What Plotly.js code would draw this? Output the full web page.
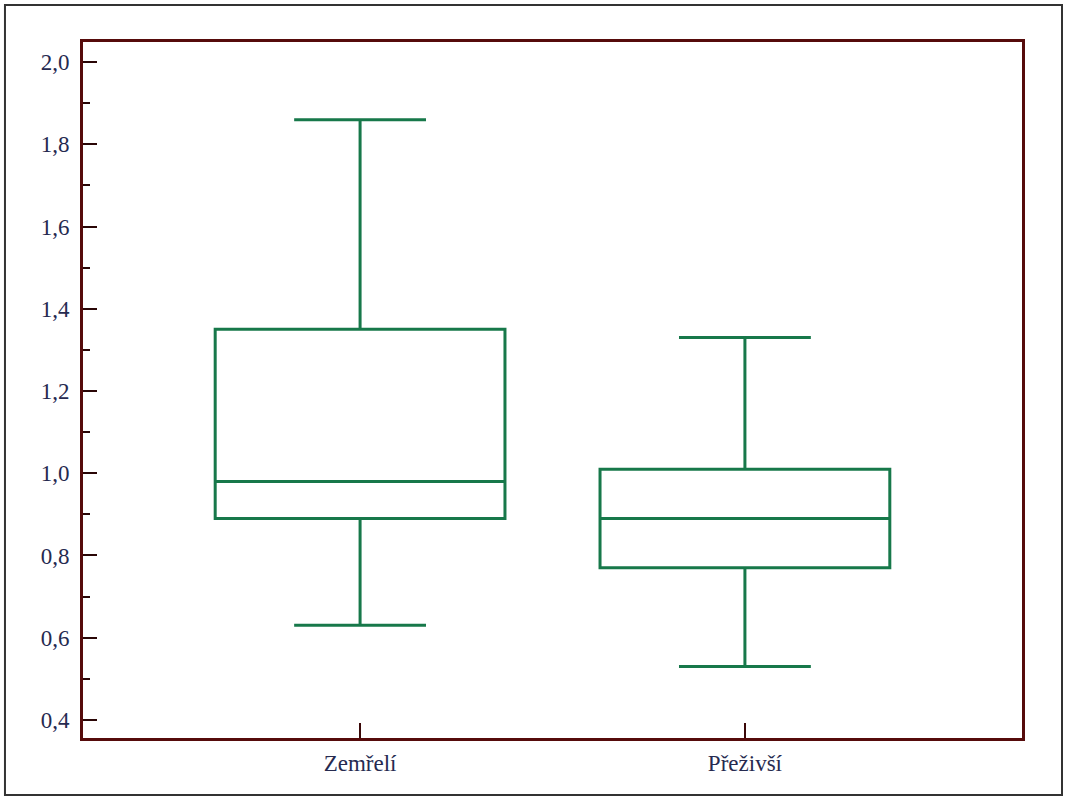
<!DOCTYPE html>
<html>
<head>
<meta charset="utf-8">
<script src="https://cdn.plot.ly/plotly-3.0.1.min.js"></script>
<style>
html,body{margin:0;padding:0;background:#fff;}
#chart{width:1067px;height:800px;}
</style>
</head>
<body>
<div id="chart"></div>
<script>
const categories = ["Zemřelí", "Přeživší"];
const lowerWhisker = [0.63, 0.53];
const q1Values = [0.89, 0.77];
const medianValues = [0.98, 0.89];
const q3Values = [1.35, 1.01];
const upperWhisker = [1.86, 1.33];
const yTickValues = [0.4, 0.6, 0.8, 1.0, 1.2, 1.4, 1.6, 1.8, 2.0];

const green = "#17784a";
const axisRed = "#560b0b";
const labelFont = {family: "Liberation Serif", size: 23, color: "#262a50"};

const trace = {
  type: "box",
  x: categories,
  q1: q1Values,
  median: medianValues,
  q3: q3Values,
  lowerfence: lowerWhisker,
  upperfence: upperWhisker,
  width: 0.753,
  whiskerwidth: 0.455,
  line: {color: green, width: 3},
  fillcolor: "rgba(0,0,0,0)",
  boxpoints: false,
  hoverinfo: "skip",
  showlegend: false
};

const layout = {
  width: 1067,
  height: 800,
  margin: {l: 83, r: 45, t: 42, b: 62},
  paper_bgcolor: "#fff",
  plot_bgcolor: "#fff",
  separators: ", ",
  showlegend: false,
  xaxis: {
    type: "category",
    range: [-0.72, 1.72],
    showline: true,
    mirror: true,
    linecolor: axisRed,
    linewidth: 3,
    ticks: "inside",
    ticklen: 15,
    tickwidth: 2,
    tickcolor: "#3a0808",
    showgrid: false,
    zeroline: false,
    tickfont: labelFont,
    ticklabelstandoff: 2
  },
  yaxis: {
    range: [0.356, 2.049],
    tickvals: yTickValues,
    tickformat: ".1f",
    showline: true,
    mirror: true,
    linecolor: axisRed,
    linewidth: 3,
    ticks: "inside",
    ticklen: 14,
    tickwidth: 2,
    tickcolor: "#2a0606",
    minor: {ticks: "inside", ticklen: 7, tickwidth: 2, dtick: 0.1, tick0: 0.4, tickcolor: "#2a0606", showgrid: false},
    showgrid: false,
    zeroline: false,
    tickfont: labelFont,
    ticklabelstandoff: 6
  },
  shapes: [{
    type: "rect",
    xref: "paper", yref: "paper",
    x0: -0.0831, x1: 1.0426, y0: -0.0819, y1: 1.0532,
    line: {color: "#333", width: 2},
    fillcolor: "rgba(0,0,0,0)",
    layer: "below"
  }]
};

Plotly.newPlot("chart", [trace], layout, {displayModeBar: false, staticPlot: true});
</script>
</body>
</html>
